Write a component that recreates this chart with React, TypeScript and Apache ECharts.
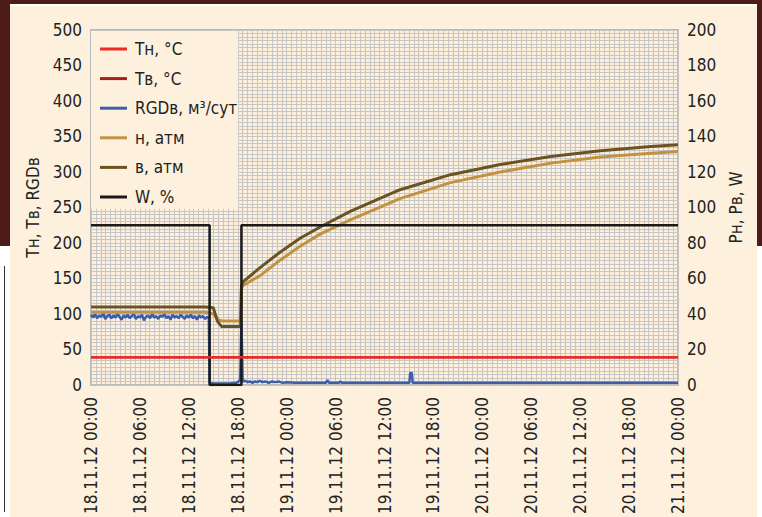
import React, { useEffect, useRef } from "react";
import * as echarts from "echarts";

const xTickLabels = [
  "18.11.12 00:00", "18.11.12 06:00", "18.11.12 12:00", "18.11.12 18:00",
  "19.11.12 00:00", "19.11.12 06:00", "19.11.12 12:00", "19.11.12 18:00",
  "20.11.12 00:00", "20.11.12 06:00", "20.11.12 12:00", "20.11.12 18:00",
  "21.11.12 00:00",
];

const legendNames = ["Tн, °C", "Tв, °C", "RGDв, м³/сут", "н, атм", "в, атм", "W, %"];

// [hour from 18.11.12 00:00, value]
const tnPoints = [[0, 39], [72, 39]];
const tvPoints = [[0, 39], [72, 39]];
const rgdPoints = [
  [0, 99], [0.25, 95], [0.5, 100], [0.75, 94], [1, 98], [1.25, 96], [1.5, 101], [1.75, 93],
  [2, 97], [2.25, 99], [2.5, 94], [2.75, 98], [3, 95], [3.25, 100], [3.5, 96], [3.75, 92],
  [4, 98], [4.25, 95], [4.5, 99], [4.75, 94], [5, 97], [5.25, 100], [5.5, 93], [5.75, 97],
  [6, 95], [6.25, 99], [6.5, 91], [6.75, 96], [7, 98], [7.25, 94], [7.5, 100], [7.75, 95],
  [8, 97], [8.25, 93], [8.5, 98], [8.75, 96], [9, 100], [9.25, 94], [9.5, 97], [9.75, 92],
  [10, 99], [10.25, 95], [10.5, 97], [10.75, 94], [11, 99], [11.25, 96], [11.5, 93], [11.75, 98],
  [12, 95], [12.25, 99], [12.5, 94], [12.75, 97], [13, 92], [13.25, 98], [13.5, 95], [13.75, 97],
  [14, 93], [14.25, 96], [14.45, 95], [14.55, 3], [15, 2], [16, 2], [17, 2], [17.8, 3],
  [18.1, 5], [18.3, 7], [18.45, 95], [18.6, 5], [18.9, 6], [19.2, 4], [19.5, 5], [19.8, 3],
  [20.1, 5], [20.4, 4], [20.7, 6], [21, 4], [21.4, 5], [21.8, 3], [22.2, 5], [22.6, 4],
  [23, 5], [23.5, 3], [24, 4], [25, 3], [28.8, 3], [29, 7], [29.2, 3], [30.4, 3],
  [30.6, 5], [30.8, 3], [39.05, 3], [39.15, 17], [39.35, 17], [39.45, 3], [50, 3], [60, 3], [72, 3],
];
const pnPoints = [
  [0, 41], [14, 41], [15, 40], [15.7, 36.5], [16.2, 36], [18.35, 36], [18.45, 54], [18.6, 56],
  [20.7, 61.5], [23.1, 70], [25.6, 78], [28.1, 85], [31.8, 93], [37.9, 105], [44.1, 114],
  [50.2, 120], [56.4, 125], [62.5, 128.5], [68.7, 130.5], [72, 131.5],
];
const pvPoints = [
  [0, 44], [14, 44], [15, 43.5], [15.5, 36], [16, 33], [18.35, 33], [18.45, 55], [18.6, 58],
  [20.7, 66], [23.1, 74.5], [25.6, 82.5], [28.1, 89], [31.8, 97.8], [37.9, 110], [44.1, 118.5],
  [50.2, 124.2], [56.4, 128.7], [62.5, 132], [68.7, 134.3], [72, 135.4],
];
const wPoints = [[0, 90], [14.55, 90], [14.55, 0], [18.45, 0], [18.45, 90], [72, 90]];

const FONT = "'Liberation Sans Narrow', 'DejaVu Sans Condensed', 'Liberation Sans', sans-serif";
const GRID_COLOR = "#c6c6c6";

export default function App() {
  const ref = useRef<HTMLDivElement>(null);
  useEffect(() => {
    if (!ref.current) return;
    const chart = echarts.init(ref.current, null, { renderer: "svg" });
    const mk = (name: string, data: number[][], color: string, yIdx: number, width: number, z: number) => ({
      name,
      type: "line",
      data,
      yAxisIndex: yIdx,
      showSymbol: false,
      symbol: "none",
      z,
      lineStyle: { color, width },
      itemStyle: { color },
    });
    chart.setOption({
      animation: false,
      backgroundColor: "transparent",
      textStyle: { fontFamily: FONT },
      grid: {
        left: 91, right: 84, top: 30, bottom: 131,
        show: true, borderColor: "#b9b9b9", borderWidth: 2, backgroundColor: "transparent",
      },
      legend: {
        orient: "vertical",
        left: 91,
        top: 31,
        data: legendNames,
        backgroundColor: "#fdf1de",
        padding: [9, 1, 3, 9],
        itemGap: 11.6,
        itemWidth: 27,
        itemHeight: 3,
        icon: "rect",
        textStyle: { fontFamily: FONT, fontSize: 17, color: "#222", lineHeight: 18, padding: [0, 0, 0, 3] },
      },
      xAxis: {
        type: "value",
        min: 0,
        max: 72,
        interval: 6,
        axisLine: { show: false },
        axisTick: { show: false },
        axisLabel: {
          rotate: 90,
          margin: 12,
          fontSize: 17,
          color: "#222",
          fontFamily: FONT,
          formatter: (v: number) => xTickLabels[Math.round(v / 6)] ?? "",
        },
        splitLine: { show: true, lineStyle: { color: GRID_COLOR, width: 1 } },
        minorTick: { show: false, splitNumber: 10 },
        minorSplitLine: { show: true, lineStyle: { color: GRID_COLOR, width: 1 } },
      },
      yAxis: [
        {
          type: "value",
          min: 0,
          max: 500,
          interval: 50,
          name: "Tн, Tв, RGDв",
          nameLocation: "middle",
          nameRotate: 90,
          nameGap: 46,
          nameTextStyle: { fontSize: 17, color: "#222", fontFamily: FONT },
          axisLine: { show: false },
          axisTick: { show: false },
          axisLabel: { fontSize: 17, color: "#222", margin: 9, fontFamily: FONT },
          splitLine: { show: true, lineStyle: { color: GRID_COLOR, width: 1 } },
          minorTick: { show: false, splitNumber: 10 },
          minorSplitLine: { show: true, lineStyle: { color: GRID_COLOR, width: 1 } },
        },
        {
          type: "value",
          min: 0,
          max: 200,
          interval: 20,
          position: "right",
          name: "Pн, Pв, W",
          nameLocation: "middle",
          nameRotate: 90,
          nameGap: 41,
          nameTextStyle: { fontSize: 17, color: "#222", fontFamily: FONT },
          axisLine: { show: false },
          axisTick: { show: false },
          axisLabel: { fontSize: 17, color: "#222", margin: 9, fontFamily: FONT },
          splitLine: { show: false },
        },
      ],
      series: [
        mk(legendNames[0], tnPoints, "#ee2a24", 0, 2.5, 5),
        mk(legendNames[1], tvPoints, "#a8201e", 0, 2.5, 2),
        mk(legendNames[2], rgdPoints, "#3b5daa", 0, 2.5, 3),
        mk(legendNames[3], pnPoints, "#c39240", 1, 3, 3),
        mk(legendNames[4], pvPoints, "#6a5221", 1, 3, 3),
        mk(legendNames[5], wPoints, "#1a1a1a", 1, 2.5, 4),
      ],
    });
    return () => chart.dispose();
  }, []);

  return (
    <div style={{ position: "absolute", left: 0, top: 0, width: 762, height: 517, overflow: "hidden", background: "#ffffff" }}>
      <div style={{ position: "absolute", left: 0, top: 0, width: 762, height: 246, background: "#4d1b18" }} />
      <div style={{ position: "absolute", left: 10, top: 4, width: 747, height: 2, background: "#ffffff" }} />
      <div style={{ position: "absolute", left: 10, top: 6, width: 747, height: 511, background: "#fdf1de" }} />
      <div style={{ position: "absolute", left: 4, top: 266, width: 1, height: 246, background: "#333" }} />
      <div ref={ref} style={{ position: "absolute", left: 0, top: 0, width: 762, height: 517 }} />
    </div>
  );
}
